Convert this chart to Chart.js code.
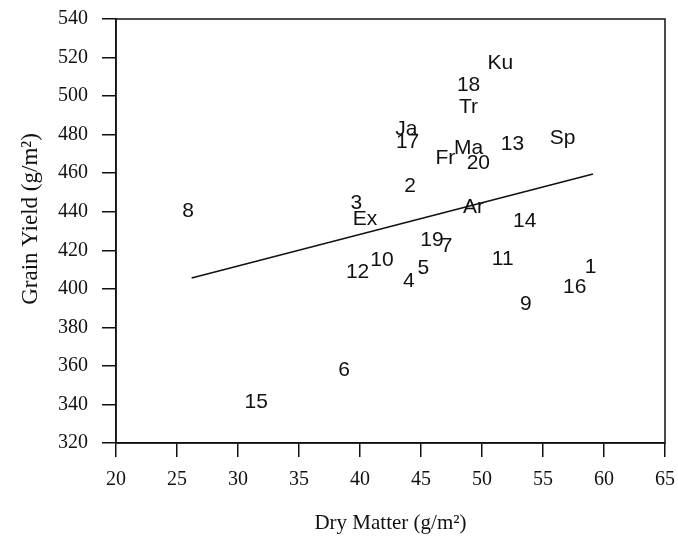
<!DOCTYPE html>
<html>
<head>
<meta charset="utf-8">
<script src="https://cdn.jsdelivr.net/npm/chart.js@4"></script>
<style>
  html, body { margin: 0; padding: 0; background: #fff; }
  #wrap { width: 678px; height: 538px; }
</style>
</head>
<body>
<div id="wrap"><canvas id="chart"></canvas></div>
<script>
// --- data ---
const labels = ["8", "15", "6", "3", "Ex", "12", "10", "4", "5", "2", "Ja", "17", "Fr", "Ma", "20",
                "18", "Tr", "Ku", "13", "Sp", "Ar", "14", "19", "7", "11", "9", "16", "1"];
const dryMatter = [25.9, 31.5, 38.7, 39.7, 40.4, 39.8, 41.8, 44.0, 45.2, 44.1, 43.8, 43.9, 47.0, 48.9, 49.7,
                   48.9, 48.9, 51.5, 52.5, 56.6, 49.3, 53.5, 45.9, 47.1, 51.7, 53.6, 57.6, 58.9];
const grainYield = [440.4, 341.2, 357.9, 444.5, 436.2, 408.7, 415.0, 404.0, 410.8, 453.3, 483.0, 476.0, 467.9, 473.0, 465.0,
                    505.7, 494.3, 517.2, 475.1, 478.2, 442.4, 435.2, 425.3, 422.2, 415.5, 392.1, 400.9, 411.3];

// regression line end points
const fitX = [26.2, 59.1];
const fitY = [405.6, 459.6];

const xTicks = [20, 25, 30, 35, 40, 45, 50, 55, 60, 65];
const yTicks = [320, 340, 360, 380, 400, 420, 440, 460, 480, 500, 520, 540];

const serif = "'Liberation Serif', 'Times New Roman', serif";

// texte dans les points au lieu de marqueurs
const textPoints = {
    id: "textPoints",
    afterDatasetsDraw(chart) {
        const ctx = chart.ctx;
        const meta = chart.getDatasetMeta(1);
        ctx.save();
        ctx.font = "21px 'Liberation Sans', Arial, sans-serif";
        ctx.fillStyle = "#111";
        ctx.textAlign = "center";
        ctx.textBaseline = "middle";
        meta.data.forEach((pt, i) => {
            ctx.fillText(labels[i], pt.x, pt.y);
        });
        ctx.restore();
    }
};

// cadre autour de la zone + titre vertical
const frame = {
    id: "frame",
    afterDraw(chart) {
        const a = chart.chartArea;
        const ctx = chart.ctx;
        ctx.save();
        ctx.strokeStyle = "#111";
        ctx.lineWidth = 1.5;
        ctx.strokeRect(a.left, a.top, a.right - a.left, a.bottom - a.top);
        ctx.translate(31, a.top + 200);
        ctx.rotate(-Math.PI / 2);
        ctx.font = "23px " + serif;
        ctx.fillStyle = "#111";
        ctx.textAlign = "center";
        ctx.textBaseline = "middle";
        ctx.fillText("Grain Yield (g/m\u00b2)", 0, 0);
        ctx.restore();
    }
};

new Chart(document.getElementById("chart"), {
    type: "scatter",
    data: {
        datasets: [{
            type: "line",
            data: fitX.map((x, i) => ({ x: x, y: fitY[i] })),
            borderColor: "#111",
            borderWidth: 1.5,
            pointRadius: 0,
            fill: false
        }, {
            data: dryMatter.map((x, i) => ({ x: x, y: grainYield[i] })),
            pointRadius: 0,
            backgroundColor: "transparent"
        }]
    },
    options: {
        responsive: true,
        maintainAspectRatio: false,
        animation: false,
        layout: { padding: { top: 19, right: 13, left: 0, bottom: 0 } },
        plugins: { legend: { display: false }, tooltip: { enabled: false } },
        scales: {
            x: {
                type: "linear",
                min: 20, max: 65,
                afterBuildTicks: s => { s.ticks = xTicks.map(v => ({ value: v })); },
                afterFit: s => { s.height = 95; s.paddingLeft = 0; s.paddingRight = 0; },
                grid: { drawOnChartArea: false, drawTicks: true, tickLength: 14, color: "#111", lineWidth: 1.5 },
                border: { display: true, color: "#111", width: 1.5 },
                ticks: { color: "#111", padding: 11, font: { family: serif, size: 20 } },
                title: { display: true, text: "Dry Matter (g/m\u00b2)", color: "#111",
                         font: { family: serif, size: 21 }, padding: { top: 8, bottom: 2 } }
            },
            y: {
                type: "linear",
                min: 320, max: 540,
                afterBuildTicks: s => { s.ticks = yTicks.map(v => ({ value: v })); },
                afterFit: s => { s.width = 116; s.paddingTop = 0; s.paddingBottom = 0; },
                grid: { drawOnChartArea: false, drawTicks: true, tickLength: 14, color: "#111", lineWidth: 1.5 },
                border: { display: true, color: "#111", width: 1.5 },
                ticks: { color: "#111", padding: 14, font: { family: serif, size: 20 } },
                title: { display: false }
            }
        }
    },
    plugins: [textPoints, frame]
});
</script>
</body>
</html>
